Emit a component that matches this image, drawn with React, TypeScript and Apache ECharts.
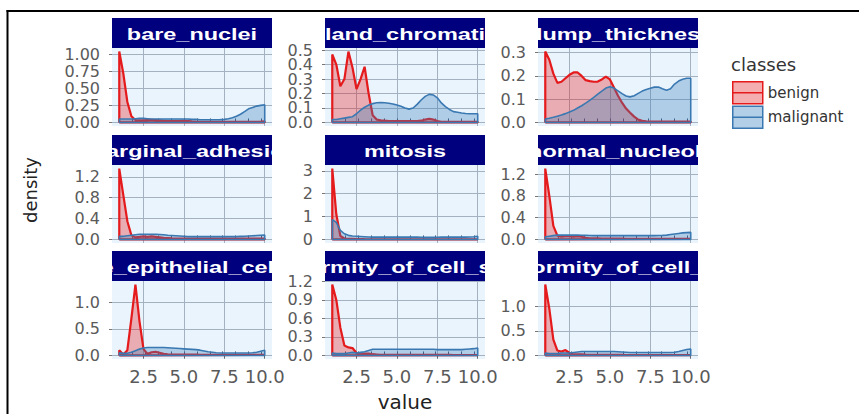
import React, { useEffect, useRef } from "react";
import * as echarts from "echarts";

const FACETS = [
  "bare_nuclei",
  "bland_chromatin",
  "clump_thickness",
  "marginal_adhesion",
  "mitosis",
  "normal_nucleoli",
  "single_epithelial_cell_size",
  "uniformity_of_cell_shape",
  "uniformity_of_cell_size",
];
const CLASSES = ["benign", "malignant"];

const X = [1, 1.25, 1.5, 1.75, 2, 2.25, 2.5, 2.75, 3, 3.25, 3.5, 3.75, 4, 4.25, 4.5, 4.75, 5, 5.25, 5.5, 5.75, 6, 6.25, 6.5, 6.75, 7, 7.25, 7.5, 7.75, 8, 8.25, 8.5, 8.75, 9, 9.25, 9.5, 9.75, 10];
const X_TICKS = [2.5, 5, 7.5, 10];
const RUG_TICKS = [1, 1.8, 2.6, 3.4, 4.2, 5, 5.8, 6.6, 7.4, 8.2, 9, 9.8];

const bare_nuclei_benign = [1.04, 0.72, 0.3, 0.09, 0.035, 0.03, 0.03, 0.035, 0.04, 0.035, 0.03, 0.025, 0.02, 0.02, 0.02, 0.022, 0.025, 0.02, 0.015, 0.012, 0.01, 0.01, 0.01, 0.01, 0.01, 0.01, 0.01, 0.01, 0.01, 0.01, 0.01, 0.01, 0.01, 0.01, 0.01, 0.012, 0.015];
const bare_nuclei_malignant = [0.05, 0.05, 0.05, 0.05, 0.055, 0.06, 0.06, 0.055, 0.05, 0.05, 0.05, 0.05, 0.05, 0.05, 0.05, 0.05, 0.05, 0.05, 0.045, 0.045, 0.04, 0.04, 0.04, 0.04, 0.04, 0.042, 0.045, 0.055, 0.07, 0.09, 0.12, 0.16, 0.2, 0.22, 0.24, 0.25, 0.26];
const bland_chromatin_benign = [0.47, 0.4, 0.25, 0.3, 0.49, 0.38, 0.23, 0.3, 0.385, 0.2, 0.05, 0.02, 0.015, 0.012, 0.01, 0.01, 0.01, 0.01, 0.01, 0.01, 0.01, 0.01, 0.012, 0.02, 0.025, 0.02, 0.01, 0.005, 0.005, 0.005, 0.005, 0.005, 0.005, 0.005, 0.005, 0.005, 0.005];
const bland_chromatin_malignant = [0.02, 0.02, 0.025, 0.03, 0.035, 0.04, 0.06, 0.085, 0.105, 0.12, 0.13, 0.136, 0.137, 0.136, 0.133, 0.128, 0.12, 0.112, 0.1, 0.092, 0.1, 0.125, 0.155, 0.18, 0.194, 0.19, 0.17, 0.135, 0.11, 0.09, 0.075, 0.07, 0.065, 0.062, 0.06, 0.06, 0.06];
const clump_thickness_benign = [0.305, 0.27, 0.21, 0.17, 0.175, 0.19, 0.205, 0.215, 0.215, 0.2, 0.182, 0.178, 0.175, 0.176, 0.185, 0.197, 0.185, 0.15, 0.115, 0.085, 0.06, 0.042, 0.025, 0.012, 0.007, 0.005, 0.004, 0.004, 0.004, 0.004, 0.004, 0.004, 0.004, 0.004, 0.004, 0.004, 0.004];
const clump_thickness_malignant = [0.015, 0.018, 0.022, 0.027, 0.032, 0.038, 0.045, 0.052, 0.062, 0.072, 0.083, 0.095, 0.108, 0.122, 0.135, 0.148, 0.154, 0.148, 0.136, 0.124, 0.114, 0.11, 0.115, 0.125, 0.135, 0.142, 0.147, 0.152, 0.152, 0.145, 0.139, 0.145, 0.165, 0.178, 0.186, 0.19, 0.19];
const marginal_adhesion_benign = [1.36, 0.85, 0.35, 0.08, 0.04, 0.05, 0.06, 0.05, 0.06, 0.05, 0.04, 0.03, 0.025, 0.02, 0.018, 0.016, 0.015, 0.015, 0.015, 0.015, 0.015, 0.015, 0.015, 0.015, 0.015, 0.015, 0.015, 0.015, 0.015, 0.015, 0.015, 0.015, 0.015, 0.015, 0.015, 0.015, 0.015];
const marginal_adhesion_malignant = [0.06, 0.06, 0.07, 0.08, 0.09, 0.1, 0.1, 0.1, 0.1, 0.1, 0.095, 0.09, 0.08, 0.075, 0.07, 0.065, 0.06, 0.055, 0.055, 0.055, 0.055, 0.055, 0.055, 0.055, 0.055, 0.055, 0.055, 0.055, 0.055, 0.055, 0.06, 0.06, 0.065, 0.07, 0.075, 0.08, 0.085];
const mitosis_benign = [3.1, 1.1, 0.15, 0.04, 0.03, 0.03, 0.02, 0.015, 0.012, 0.01, 0.01, 0.01, 0.01, 0.01, 0.01, 0.01, 0.01, 0.01, 0.01, 0.01, 0.008, 0.008, 0.008, 0.008, 0.008, 0.008, 0.008, 0.008, 0.008, 0.008, 0.006, 0.006, 0.006, 0.006, 0.006, 0.006, 0.006];
const mitosis_malignant = [0.87, 0.75, 0.4, 0.25, 0.18, 0.15, 0.14, 0.13, 0.12, 0.11, 0.1, 0.1, 0.1, 0.1, 0.1, 0.1, 0.1, 0.1, 0.1, 0.1, 0.1, 0.1, 0.095, 0.09, 0.09, 0.09, 0.095, 0.1, 0.1, 0.1, 0.1, 0.1, 0.1, 0.1, 0.11, 0.12, 0.14];
const normal_nucleoli_benign = [1.3, 0.8, 0.25, 0.07, 0.05, 0.06, 0.06, 0.05, 0.06, 0.05, 0.03, 0.02, 0.02, 0.018, 0.016, 0.015, 0.015, 0.015, 0.015, 0.015, 0.012, 0.012, 0.012, 0.012, 0.012, 0.012, 0.012, 0.012, 0.012, 0.012, 0.01, 0.01, 0.01, 0.01, 0.01, 0.01, 0.01];
const normal_nucleoli_malignant = [0.05, 0.06, 0.07, 0.08, 0.08, 0.08, 0.08, 0.08, 0.08, 0.078, 0.075, 0.072, 0.07, 0.07, 0.07, 0.07, 0.07, 0.07, 0.07, 0.07, 0.07, 0.07, 0.07, 0.07, 0.07, 0.07, 0.07, 0.07, 0.072, 0.075, 0.08, 0.09, 0.1, 0.11, 0.12, 0.125, 0.13];
const single_epithelial_cell_size_benign = [0.1, 0.02, 0.1, 0.7, 1.34, 0.65, 0.12, 0.03, 0.06, 0.07, 0.05, 0.03, 0.02, 0.018, 0.016, 0.015, 0.015, 0.015, 0.015, 0.015, 0.012, 0.012, 0.012, 0.012, 0.012, 0.012, 0.012, 0.012, 0.012, 0.012, 0.01, 0.01, 0.01, 0.01, 0.01, 0.01, 0.01];
const single_epithelial_cell_size_malignant = [0.05, 0.04, 0.04, 0.06, 0.09, 0.12, 0.14, 0.15, 0.15, 0.15, 0.15, 0.15, 0.145, 0.14, 0.135, 0.13, 0.125, 0.12, 0.115, 0.11, 0.1, 0.085, 0.07, 0.06, 0.05, 0.045, 0.045, 0.045, 0.045, 0.045, 0.045, 0.045, 0.045, 0.05, 0.06, 0.08, 0.1];
const uniformity_of_cell_shape_benign = [1.15, 0.9, 0.45, 0.16, 0.13, 0.12, 0.04, 0.02, 0.03, 0.03, 0.02, 0.015, 0.01, 0.01, 0.01, 0.01, 0.01, 0.01, 0.01, 0.01, 0.008, 0.008, 0.008, 0.008, 0.008, 0.008, 0.008, 0.008, 0.008, 0.008, 0.005, 0.005, 0.005, 0.005, 0.005, 0.005, 0.005];
const uniformity_of_cell_shape_malignant = [0.04, 0.03, 0.03, 0.03, 0.04, 0.05, 0.04, 0.05, 0.06, 0.08, 0.1, 0.1, 0.1, 0.1, 0.1, 0.1, 0.1, 0.1, 0.1, 0.1, 0.1, 0.1, 0.1, 0.1, 0.1, 0.1, 0.095, 0.095, 0.095, 0.095, 0.095, 0.095, 0.095, 0.1, 0.105, 0.11, 0.12];
const uniformity_of_cell_size_benign = [1.44, 0.95, 0.32, 0.1, 0.08, 0.11, 0.05, 0.02, 0.02, 0.02, 0.015, 0.012, 0.01, 0.01, 0.01, 0.01, 0.01, 0.01, 0.01, 0.01, 0.008, 0.008, 0.008, 0.008, 0.008, 0.008, 0.008, 0.008, 0.008, 0.008, 0.005, 0.005, 0.005, 0.005, 0.005, 0.005, 0.005];
const uniformity_of_cell_size_malignant = [0.05, 0.04, 0.04, 0.04, 0.05, 0.05, 0.05, 0.06, 0.07, 0.08, 0.08, 0.08, 0.08, 0.08, 0.08, 0.08, 0.08, 0.08, 0.075, 0.07, 0.065, 0.06, 0.06, 0.06, 0.06, 0.06, 0.06, 0.06, 0.06, 0.06, 0.06, 0.06, 0.065, 0.08, 0.1, 0.12, 0.13];

const BENIGN = [
  bare_nuclei_benign,
  bland_chromatin_benign,
  clump_thickness_benign,
  marginal_adhesion_benign,
  mitosis_benign,
  normal_nucleoli_benign,
  single_epithelial_cell_size_benign,
  uniformity_of_cell_shape_benign,
  uniformity_of_cell_size_benign,
];
const MALIGNANT = [
  bare_nuclei_malignant,
  bland_chromatin_malignant,
  clump_thickness_malignant,
  marginal_adhesion_malignant,
  mitosis_malignant,
  normal_nucleoli_malignant,
  single_epithelial_cell_size_malignant,
  uniformity_of_cell_shape_malignant,
  uniformity_of_cell_size_malignant,
];

const Y_TICKS = [
  [0, 0.25, 0.5, 0.75, 1],
  [0, 0.1, 0.2, 0.3, 0.4, 0.5],
  [0, 0.1, 0.2, 0.3],
  [0, 0.4, 0.8, 1.2],
  [0, 1, 2, 3],
  [0, 0.4, 0.8, 1.2],
  [0, 0.5, 1],
  [0, 0.3, 0.6, 0.9, 1.2],
  [0, 0.5, 1],
];
const Y_DECIMALS = [2, 1, 1, 1, 0, 1, 1, 1, 1];

// layout
const COL_LEFT = [112, 325, 538];
const ROW_TOP = [48, 165, 281];
const PANEL_W = 160;
const PANEL_H = 78;
const STRIP_H = 30;

const FONT = '"DejaVu Sans", "Liberation Sans", sans-serif';
const RED = "#E41A1C";
const BLUE = "#3A78B2";
const RED_FILL = "rgba(228,26,28,0.33)";
const BLUE_FILL = "rgba(55,126,184,0.33)";
const RED_KEY = "#F4AEB0";
const BLUE_KEY = "#B3CFE8";
const PANEL_BG = "#EAF4FC";
const GRID_LINE = "#A3B1C0";
const STRIP_BG = "#00007F";
const LABEL = "#5a5a5a";
const KEY_ICON = "path://M0,0H30V22H0ZM0,11H30";

function closedPolygon(vals: number[]) {
  const pts: number[][] = [[X[0], 0]];
  X.forEach((x, k) => pts.push([x, vals[k]]));
  pts.push([X[X.length - 1], 0]);
  pts.push([X[0], 0]);
  return pts;
}

export default function App() {
  const ref = useRef<HTMLDivElement>(null);

  useEffect(() => {
    if (!ref.current) return;
    const chart = echarts.init(ref.current, undefined, { renderer: "svg" });

    const grids: any[] = [];
    const xAxes: any[] = [];
    const yAxes: any[] = [];
    const series: any[] = [];

    // panel grids (0..8)
    FACETS.forEach((_, i) => {
      const col = i % 3;
      const row = Math.floor(i / 3);
      grids.push({
        left: COL_LEFT[col],
        top: ROW_TOP[row],
        width: PANEL_W,
        height: PANEL_H,
        show: true,
        backgroundColor: PANEL_BG,
        borderWidth: 0,
        containLabel: false,
      });
    });
    // strip grids (9..17)
    FACETS.forEach((_, i) => {
      const col = i % 3;
      const row = Math.floor(i / 3);
      grids.push({
        left: COL_LEFT[col],
        top: ROW_TOP[row] - STRIP_H,
        width: PANEL_W,
        height: STRIP_H,
        show: true,
        backgroundColor: STRIP_BG,
        borderWidth: 0,
        containLabel: false,
      });
    });

    const yLabelBase = {
      showMinLabel: true,
      showMaxLabel: true,
      hideOverlap: false,
      color: LABEL,
      fontSize: 16,
      fontFamily: FONT,
      margin: 12,
    };

    // panel axes (x 0..8, y 0..8)
    FACETS.forEach((_, i) => {
      const row = Math.floor(i / 3);
      const isBottom = row === 2;
      const M = Math.max(...BENIGN[i], ...MALIGNANT[i]);
      xAxes.push({
        gridIndex: i,
        type: "value",
        min: 0.55,
        max: 10.45,
        position: "bottom",
        axisLine: { show: false },
        axisTick: {
          show: isBottom,
          length: 3,
          customValues: X_TICKS,
          lineStyle: { color: "#666" },
        },
        axisLabel: {
          show: isBottom,
          customValues: X_TICKS,
          showMinLabel: true,
          showMaxLabel: true,
          formatter: (v: number) => v.toFixed(1),
          color: LABEL,
          fontSize: 18,
          fontFamily: FONT,
          margin: 8,
        },
        splitLine: { show: true, lineStyle: { color: GRID_LINE, width: 1 } },
        name: i === 7 ? "value" : "",
        nameLocation: "middle",
        nameGap: 33,
        nameTextStyle: { fontSize: 20, color: "#222", fontFamily: FONT },
      });
      const dec = Y_DECIMALS[i];
      const evenTicks = Y_TICKS[i].filter((_, k) => k % 2 === 0);
      yAxes.push({
        gridIndex: i,
        type: "value",
        position: "left",
        min: -0.05 * M,
        max: 1.05 * M,
        axisLine: { show: false },
        axisTick: {
          show: true,
          length: 3,
          customValues: Y_TICKS[i],
          lineStyle: { color: "#777" },
        },
        axisLabel: {
          ...yLabelBase,
          customValues: evenTicks,
          formatter: (v: number) => v.toFixed(dec),
        },
        splitLine: { show: true, lineStyle: { color: GRID_LINE, width: 1 } },
      });
    });
    // strip axes (x 9..17, y 9..17)
    FACETS.forEach((_, i) => {
      xAxes.push({ gridIndex: 9 + i, type: "value", min: 0, max: 1, show: false });
      yAxes.push({ gridIndex: 9 + i, type: "value", min: 0, max: 1, show: false });
    });
    // rug-like bottom marks (x axes 18..26)
    FACETS.forEach((_, i) => {
      xAxes.push({
        gridIndex: i,
        type: "value",
        min: 0.55,
        max: 10.45,
        position: "bottom",
        axisLine: { show: false },
        axisLabel: { show: false },
        splitLine: { show: false },
        axisTick: {
          show: true,
          inside: true,
          length: 4,
          customValues: RUG_TICKS,
          lineStyle: { color: "#3E5277", width: 1 },
        },
      });
    });
    // odd-position y tick labels (y axes 18..26), same scale as the panel axis
    FACETS.forEach((_, i) => {
      const M = Math.max(...BENIGN[i], ...MALIGNANT[i]);
      const dec = Y_DECIMALS[i];
      const oddTicks = Y_TICKS[i].filter((_, k) => k % 2 === 1);
      yAxes.push({
        gridIndex: i,
        type: "value",
        position: "left",
        offset: 0,
        min: -0.05 * M,
        max: 1.05 * M,
        axisLine: { show: false },
        axisTick: { show: false, customValues: oddTicks },
        splitLine: { show: false },
        axisLabel: {
          ...yLabelBase,
          customValues: oddTicks,
          formatter: (v: number) => v.toFixed(dec),
        },
      });
    });

    // density series
    FACETS.forEach((_, i) => {
      const sets = [BENIGN[i], MALIGNANT[i]];
      sets.forEach((vals, c) => {
        series.push({
          type: "line",
          name: CLASSES[c],
          xAxisIndex: i,
          yAxisIndex: i,
          data: closedPolygon(vals),
          symbol: "none",
          showSymbol: false,
          silent: true,
          lineStyle: { color: c === 0 ? RED : BLUE, width: c === 0 ? 2.2 : 1.6 },
          itemStyle: { color: c === 0 ? RED : BLUE },
          areaStyle: { color: c === 0 ? RED_FILL : BLUE_FILL, opacity: 1 },
          z: 2 + c,
        });
      });
    });

    // strip labels (clipped to strip)
    FACETS.forEach((name, i) => {
      series.push({
        type: "custom",
        name: "strip_" + name,
        xAxisIndex: 9 + i,
        yAxisIndex: 9 + i,
        clip: true,
        silent: true,
        data: [[0.5, 0.5]],
        renderItem: (_params: any, api: any) => {
          const p = api.coord([api.value(0), api.value(1)]);
          return {
            type: "text",
            x: p[0],
            y: p[1] + 1,
            scaleX: 1.38,
            style: {
              text: name,
              fill: "#ffffff",
              font: 'bold 17px "Liberation Sans", Arial, sans-serif',
              align: "center",
              verticalAlign: "middle",
              textAlign: "center",
              textVerticalAlign: "middle",
            },
          };
        },
      });
    });

    const option: any = {
      animation: false,
      backgroundColor: "#ffffff",
      title: {
        text: "classes",
        left: 731,
        top: 55,
        padding: 0,
        textStyle: { fontSize: 18, fontWeight: "normal", color: "#333", fontFamily: FONT },
      },
      legend: {
        orient: "vertical",
        left: 732,
        top: 81,
        padding: 0,
        itemWidth: 30,
        itemHeight: 22,
        itemGap: 1,
        selectedMode: false,
        textStyle: { fontSize: 15, color: "#333", fontFamily: FONT },
        data: [
          { name: CLASSES[0], icon: KEY_ICON, itemStyle: { color: RED_KEY, borderColor: RED, borderWidth: 1.5 } },
          { name: CLASSES[1], icon: KEY_ICON, itemStyle: { color: BLUE_KEY, borderColor: BLUE, borderWidth: 1.5 } },
        ],
      },
      grid: grids,
      xAxis: xAxes,
      yAxis: yAxes,
      series,
      graphic: {
        elements: [
          {
            type: "text",
            x: 30,
            y: 190,
            rotation: Math.PI / 2,
            style: {
              text: "density",
              font: '18px "DejaVu Sans", sans-serif',
              fill: "#222",
              align: "center",
              verticalAlign: "middle",
              textAlign: "center",
              textVerticalAlign: "middle",
            },
          },
          {
            type: "line",
            z: 100,
            shape: { x1: 6.5, y1: 11, x2: 859, y2: 11 },
            style: { stroke: "#000", lineWidth: 2 },
          },
          {
            type: "line",
            z: 100,
            shape: { x1: 7.5, y1: 10, x2: 7.5, y2: 414 },
            style: { stroke: "#000", lineWidth: 2 },
          },
        ],
      },
    };

    chart.setOption(option);
    return () => chart.dispose();
  }, []);

  return (
    <div
      ref={ref}
      style={{ position: "fixed", left: 0, top: 0, width: 859, height: 414, background: "#fff" }}
    />
  );
}
